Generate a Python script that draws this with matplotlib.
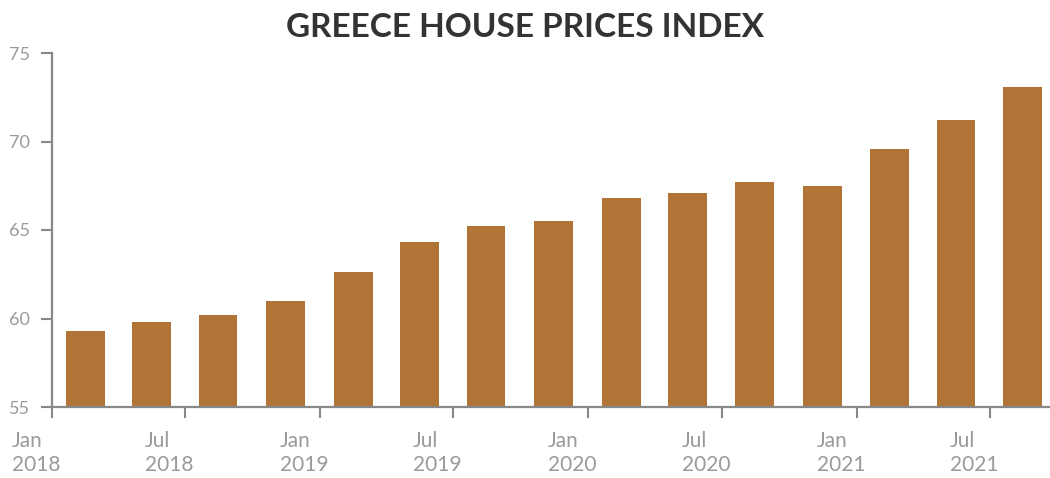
import datetime as dt
import matplotlib
matplotlib.use("Agg")
import matplotlib.pyplot as plt
import matplotlib.transforms as mtransforms

# Quarterly house price index, Greece
quarters = ["2018Q1", "2018Q2", "2018Q3", "2018Q4",
            "2019Q1", "2019Q2", "2019Q3", "2019Q4",
            "2020Q1", "2020Q2", "2020Q3", "2020Q4",
            "2021Q1", "2021Q2", "2021Q3"]
index_values = [59.3, 59.8, 60.2, 61.0,
                62.6, 64.3, 65.2, 65.5,
                66.8, 67.1, 67.7, 67.5,
                69.6, 71.2, 73.1]
tick_labels = ["Jan\n2018", "Jul\n2018", "Jan\n2019", "Jul\n2019",
               "Jan\n2020", "Jul\n2020", "Jan\n2021", "Jul\n2021"]
y_ticks = [55, 60, 65, 70, 75]


def quarter_mid(q):
    year, qn = int(q[:4]), int(q[-1])
    start = dt.date(year, 3 * (qn - 1) + 1, 1)
    return start + dt.timedelta(days=45)


bar_x = [quarter_mid(q) for q in quarters]
tick_dates = [dt.date(int(t.split("\n")[1]), 1 if t.startswith("Jan") else 7, 1)
              for t in tick_labels]

BAR = "#B07436"
AXIS = "#888888"
LABEL = "#9a9a9a"

fig = plt.figure(figsize=(10.5, 4.78), dpi=100)
ax = fig.add_axes([52 / 1050, 1 - 407 / 478, 1 - 52 / 1050, (407 - 53) / 478])

ax.bar(bar_x, index_values, width=53, color=BAR, align="center", zorder=2)

ax.set_ylim(55, 75)
ax.set_yticks(y_ticks)
ax.set_xlim(dt.date(2018, 1, 1), dt.date(2021, 9, 21))
ax.set_xticks(tick_dates)
ax.set_xticklabels(tick_labels)

for side in ("top", "right"):
    ax.spines[side].set_visible(False)
for side in ("left", "bottom"):
    ax.spines[side].set_color(AXIS)
    ax.spines[side].set_linewidth(1.6)

ax.tick_params(axis="y", length=8, width=1.5, color=AXIS, labelcolor=LABEL,
               labelsize=13, pad=8)
ax.tick_params(axis="x", length=8, width=1.5, color=AXIS, labelcolor=LABEL,
               labelsize=15, pad=9)

for lbl in ax.get_yticklabels():
    lbl.set_fontfamily("Lato")
offset = mtransforms.ScaledTranslation(-40 / 100, 0, fig.dpi_scale_trans)
for lbl in ax.get_xticklabels():
    lbl.set_fontfamily("Lato")
    lbl.set_horizontalalignment("left")
    lbl.set_linespacing(1.3)
    lbl.set_transform(lbl.get_transform() + offset)

fig.text(0.5, 1 - 37 / 478, "GREECE HOUSE PRICES INDEX", ha="center", va="baseline",
         fontsize=24, fontweight="bold", fontfamily="Lato", color="#333333")

fig.savefig("out.png", dpi=100, facecolor="white")
